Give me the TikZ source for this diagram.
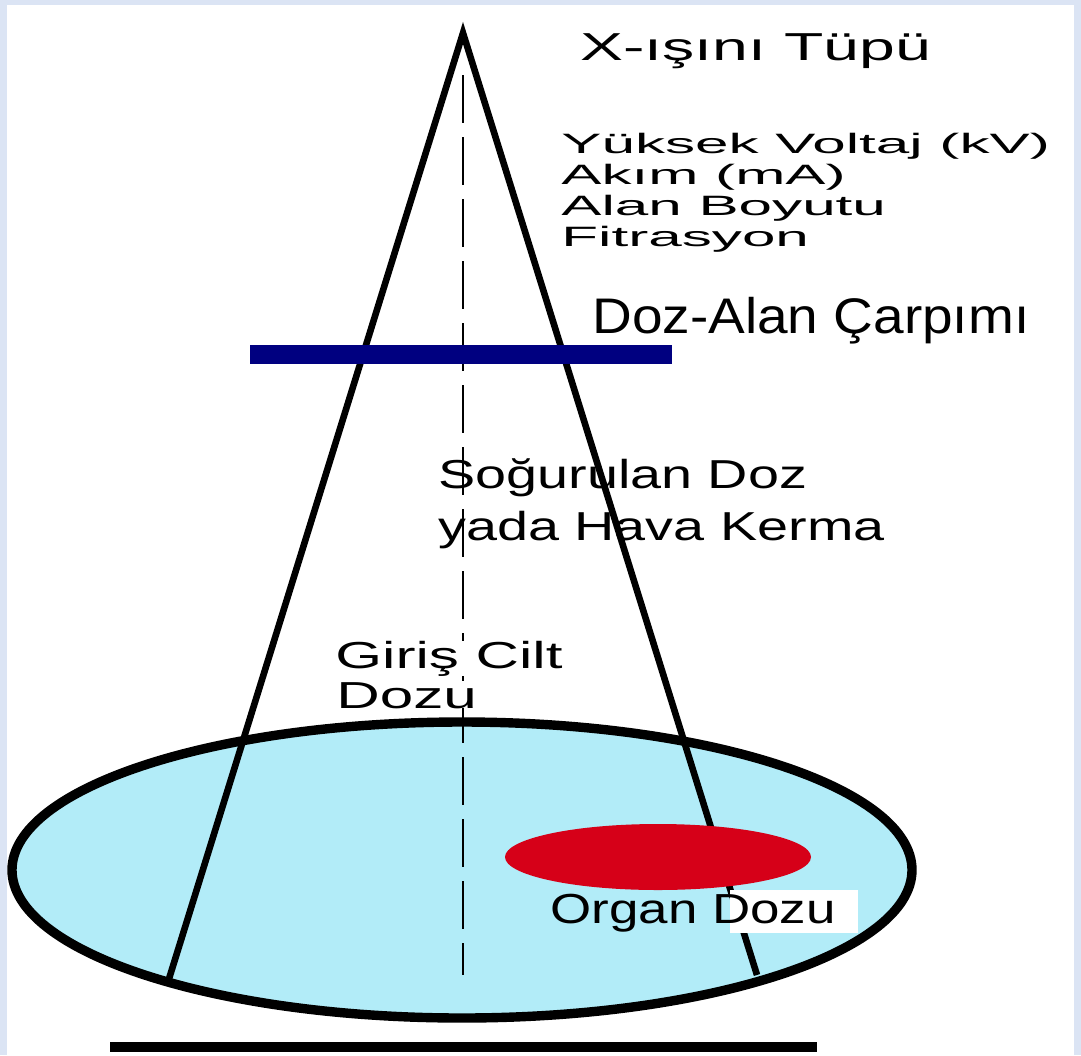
\documentclass[tikz,border=0pt]{standalone}
\usepackage{fontspec}
\setmainfont{Liberation Sans}
\newfontfamily\tubefont{Liberation Sans}[FakeStretch=1.65]
\newfontfamily\paramfont{Liberation Sans}[FakeStretch=2.15]
\newfontfamily\dapfont{Liberation Sans}[FakeStretch=1.1]
\newfontfamily\kermafont{Liberation Sans}[FakeStretch=1.38]
\newfontfamily\skinfont{Liberation Sans}[FakeStretch=1.6]
\newfontfamily\organfont{Liberation Sans}[FakeStretch=1.26]
\definecolor{frameblue}{RGB}{219,228,244}
\definecolor{bodycyan}{RGB}{178,236,248}
\definecolor{organred}{RGB}{214,0,24}
\definecolor{dapnavy}{RGB}{0,0,128}

\begin{document}
\begin{tikzpicture}[
    x=0.5pt, y=-0.5pt,
    lbl/.style={anchor=base west, inner sep=0pt},
    beam/.style={line width=3.3pt, line join=miter},
    axisline/.style={line width=1pt, dash pattern=on 24pt off 7pt},
    outline/.style={line width=4.7pt}]
    \fill[frameblue] (0,0) rectangle (1081,1055);
    \fill[white] (7,5) rectangle (1074,1055);
    \useasboundingbox (0,0) rectangle (1081,1055);

    \coordinate (focus) at (463,33);
    \coordinate (lfoot) at (168,982);
    \coordinate (rfoot) at (757,975);
    \coordinate (axtop) at (463,75);
    \coordinate (axbot) at (463,975);

    \draw[outline, fill=bodycyan] (462,870) ellipse [x radius=450, y radius=148];
    \draw[beam] (lfoot) -- (focus) -- (rfoot);
    \draw[axisline] (axtop) -- (axbot);
    \fill[organred] (658,857) ellipse [x radius=153, y radius=33];
    \fill[white] (730,890) rectangle (858,933);
    \draw[line width=9.5pt, dapnavy] (250,354.5) -- (672,354.5);
    \draw[line width=5pt] (110,1047) -- (817,1047);

    \node[lbl, font=\tubefont\fontsize{19.5}{20}\selectfont] (tube) at (580,60) {X-ışını Tüpü};
    \node[lbl, font=\paramfont\fontsize{14}{15}\selectfont] (kv) at (561,153) {Yüksek Voltaj (kV)};
    \node[lbl, font=\paramfont\fontsize{14}{15}\selectfont] (ma) at (561,184) {Akım (mA)};
    \node[lbl, font=\paramfont\fontsize{14}{15}\selectfont] (field) at (561,215) {Alan Boyutu};
    \node[lbl, font=\paramfont\fontsize{14}{15}\selectfont] (filter) at (561,246) {Fitrasyon};
    \node[lbl, font=\dapfont\fontsize{25}{26}\selectfont] (dap) at (592,333) {Doz-Alan Çarpımı};
    \node[lbl, font=\kermafont\fontsize{20.2}{21}\selectfont] (absorbed) at (438,488) {Soğurulan Doz};
    \node[lbl, font=\kermafont\fontsize{20.2}{21}\selectfont] (kerma) at (438,540) {yada Hava Kerma};
    \node[lbl, fill=white, font=\skinfont\fontsize{18.8}{19}\selectfont] (entrance) at (335,668) {Giriş Cilt};
    \node[lbl, fill=white, font=\skinfont\fontsize{18.8}{19}\selectfont] (esd) at (336,708) {Dozu};
    \node[lbl, font=\organfont\fontsize{21}{22}\selectfont] (organ) at (550,923) {Organ Dozu};
\end{tikzpicture}
\end{document}
